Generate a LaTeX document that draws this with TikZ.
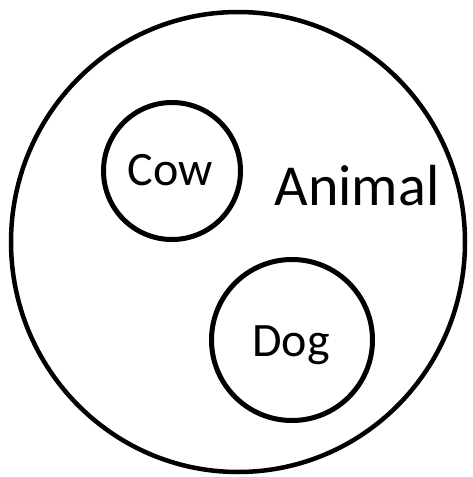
\documentclass[tikz,border=0pt]{standalone}
\usepackage{fontspec}
\setmainfont{Carlito}
\usetikzlibrary{shapes.geometric}
\begin{document}
\begin{tikzpicture}[x=1pt,y=-1pt,
  ring/.style={draw=black, line width=5pt, circle, inner sep=0pt},
  outerring/.style={draw=black, line width=4.5pt, ellipse, inner sep=0pt},
  lbl/.style={anchor=base, inner sep=0pt, text=black}]
\useasboundingbox (0,0) rectangle (472,477);
\fill[white] (0,0) rectangle (472,477);
\node[outerring, minimum width=454pt, minimum height=460pt] (animalset) at (238,242) {};
\node[ring, minimum size=137pt] (cowset) at (172,171) {};
\node[ring, minimum size=161pt] (dogset) at (292,340) {};
\node[lbl, font=\fontsize{48}{56}\selectfont] (cow) at (170,185) {Cow};
\node[lbl, font=\fontsize{58}{68}\selectfont] (animal) at (357,205) {Animal};
\node[lbl, font=\fontsize{48}{56}\selectfont] (dog) at (291,356) {Dog};
\end{tikzpicture}
\end{document}
